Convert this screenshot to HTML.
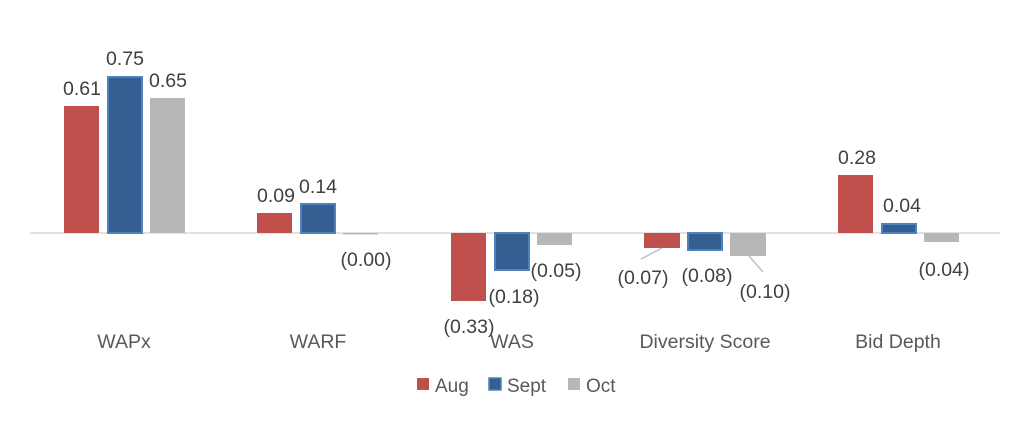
<!DOCTYPE html>
<html><head><style>body{margin:0;background:#fff}</style></head><body>
<svg width="1024" height="419" xmlns="http://www.w3.org/2000/svg" font-family="Liberation Sans, sans-serif">
<line x1="30" y1="233" x2="1000" y2="233" stroke="#d9d9d9" stroke-width="1.5"/>
<g>
<rect x="64" y="106" width="35" height="127" fill="#c0504d"/>
<rect x="108" y="77" width="34" height="156" fill="#355f91" stroke="#4f81bd" stroke-width="2"/>
<rect x="150" y="98" width="35" height="135" fill="#b7b7b7"/>
<rect x="257" y="213" width="35" height="20" fill="#c0504d"/>
<rect x="301" y="204" width="34" height="29" fill="#355f91" stroke="#4f81bd" stroke-width="2"/>
<rect x="343" y="233" width="35" height="1.5" fill="#b7b7b7"/>
<rect x="451" y="233" width="35" height="68" fill="#c0504d"/>
<rect x="495" y="233" width="34" height="37" fill="#355f91" stroke="#4f81bd" stroke-width="2"/>
<rect x="537" y="233" width="35" height="12" fill="#b7b7b7"/>
<rect x="644" y="233" width="36" height="15" fill="#c0504d"/>
<rect x="688" y="233" width="34" height="17" fill="#355f91" stroke="#4f81bd" stroke-width="2"/>
<rect x="730" y="233" width="36" height="23" fill="#b7b7b7"/>
<rect x="838" y="175" width="35" height="58" fill="#c0504d"/>
<rect x="882" y="224" width="34" height="9" fill="#355f91" stroke="#4f81bd" stroke-width="2"/>
<rect x="924" y="233" width="35" height="9" fill="#b7b7b7"/>
</g>
<g stroke="#bfbfbf" stroke-width="1.5">
<line x1="641" y1="259" x2="662" y2="248"/>
<line x1="749" y1="256" x2="763" y2="272"/>
</g>
<g font-size="19.5" fill="#404040" text-anchor="middle">
<text x="82" y="95">0.61</text>
<text x="125" y="65">0.75</text>
<text x="168" y="87">0.65</text>
<text x="276" y="202">0.09</text>
<text x="318" y="193">0.14</text>
<text x="366" y="266">(0.00)</text>
<text x="469" y="333">(0.33)</text>
<text x="514" y="303">(0.18)</text>
<text x="556" y="277">(0.05)</text>
<text x="643" y="284">(0.07)</text>
<text x="707" y="282">(0.08)</text>
<text x="765" y="298">(0.10)</text>
<text x="857" y="164">0.28</text>
<text x="902" y="212">0.04</text>
<text x="944" y="276">(0.04)</text>
</g>
<g font-size="19.5" fill="#595959" text-anchor="middle">
<text x="124" y="348">WAPx</text>
<text x="318" y="348">WARF</text>
<text x="512" y="348">WAS</text>
<text x="705" y="348">Diversity Score</text>
<text x="898" y="348">Bid Depth</text>
</g>
<g font-size="19" fill="#595959">
<rect x="417" y="378" width="12" height="12" fill="#c0504d"/>
<text x="435" y="392">Aug</text>
<rect x="489" y="378" width="12" height="12" fill="#355f91" stroke="#4f81bd" stroke-width="1.5"/>
<text x="507" y="392">Sept</text>
<rect x="568" y="378" width="12" height="12" fill="#b7b7b7"/>
<text x="586" y="392">Oct</text>
</g>
</svg>
</body></html>
